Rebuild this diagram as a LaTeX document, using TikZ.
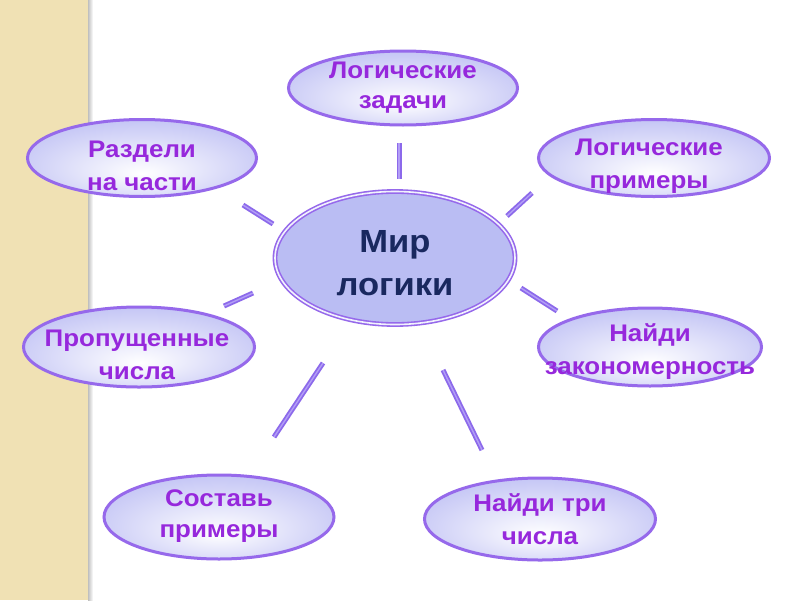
\documentclass[tikz,border=0pt]{standalone}
\usepackage{fontspec}
\setmainfont{Liberation Sans}[FakeStretch=1.08]
\usetikzlibrary{shapes.geometric}
\definecolor{lav}{RGB}{155,157,238}
\definecolor{pur}{RGB}{150,105,235}
\definecolor{txt}{RGB}{150,40,220}
\definecolor{navy}{RGB}{25,40,95}
\definecolor{cfill}{RGB}{186,189,243}
\definecolor{beige}{RGB}{240,225,180}
\definecolor{connc}{RGB}{140,105,235}
\definecolor{connl}{RGB}{178,158,246}
\pgfdeclareradialshading{satshade}{\pgfpoint{0bp}{-10bp}}{color(0bp)=(white); color(50bp)=(lav)}
\tikzset{
  sat/.style={ellipse, draw=pur, line width=3pt, shading=satshade, inner sep=0pt},
  sattext/.style={font=\fontsize{24}{33}\selectfont\bfseries, text=txt, align=center},
  hub/.style={ellipse, draw=pur, line width=1.6pt, double=white!80!cfill, double distance=1.6pt,
    fill=cfill, inner sep=0pt, minimum width=240pt, minimum height=133pt},
  hubtext/.style={font=\fontsize{32}{43}\selectfont\bfseries, text=navy, align=center},
  conn/.style={draw=connc, line width=1.8pt, double=connl, double distance=1.4pt}
}
\begin{document}
\begin{tikzpicture}[x=1pt,y=-1pt]
\useasboundingbox (0,0) rectangle (800,600);
\fill[white] (0,0) rectangle (800,600);
\fill[beige] (0,0) rectangle (88,600);
\shade[left color=black!25, right color=white] (88,0) rectangle (93,600);

\node[hub, label={[hubtext,yshift=-5pt]center:Мир\\логики}] (hub) at (395,258) {};
\node[sat, minimum width=229pt, minimum height=74pt, label={[sattext,font=\fontsize{24}{30}\selectfont\bfseries]center:Логические\\задачи}] (top) at (403,88) {};
\node[sat, minimum width=231pt, minimum height=77pt, label={[sattext,yshift=-8pt,xshift=-5pt]center:Логические\\примеры}] (rt) at (654,158) {};
\node[sat, minimum width=229pt, minimum height=77pt, label={[sattext,yshift=-8pt]center:Раздели\\на части}] (lt) at (142,158) {};
\node[sat, minimum width=231pt, minimum height=80pt, label={[sattext,yshift=-8pt,xshift=-2pt]center:Пропущенные\\числа}] (lm) at (139,347) {};
\node[sat, minimum width=223pt, minimum height=78pt, label={[sattext,yshift=-5pt]center:Найди\\закономерность}] (rm) at (650,347) {};
\node[sat, minimum width=230pt, minimum height=84pt, label={[sattext,font=\fontsize{24}{31}\selectfont\bfseries,yshift=1pt]center:Составь\\примеры}] (bl) at (219,517) {};
\node[sat, minimum width=231pt, minimum height=82pt, label={[sattext]center:Найди три\\числа}] (br) at (540,519) {};

\coordinate (c1a) at (399,143); \coordinate (c1b) at (399,179);
\coordinate (c2a) at (507,216); \coordinate (c2b) at (532,193);
\coordinate (c3a) at (521,288); \coordinate (c3b) at (557,311);
\coordinate (c4a) at (443,370); \coordinate (c4b) at (482,450);
\coordinate (c5a) at (323,363); \coordinate (c5b) at (274,437);
\coordinate (c6a) at (253,293); \coordinate (c6b) at (224,306);
\coordinate (c7a) at (243,205); \coordinate (c7b) at (273,224);
\foreach \i in {1,...,7} {\draw[conn] (c\i a) -- (c\i b);}
\end{tikzpicture}
\end{document}
